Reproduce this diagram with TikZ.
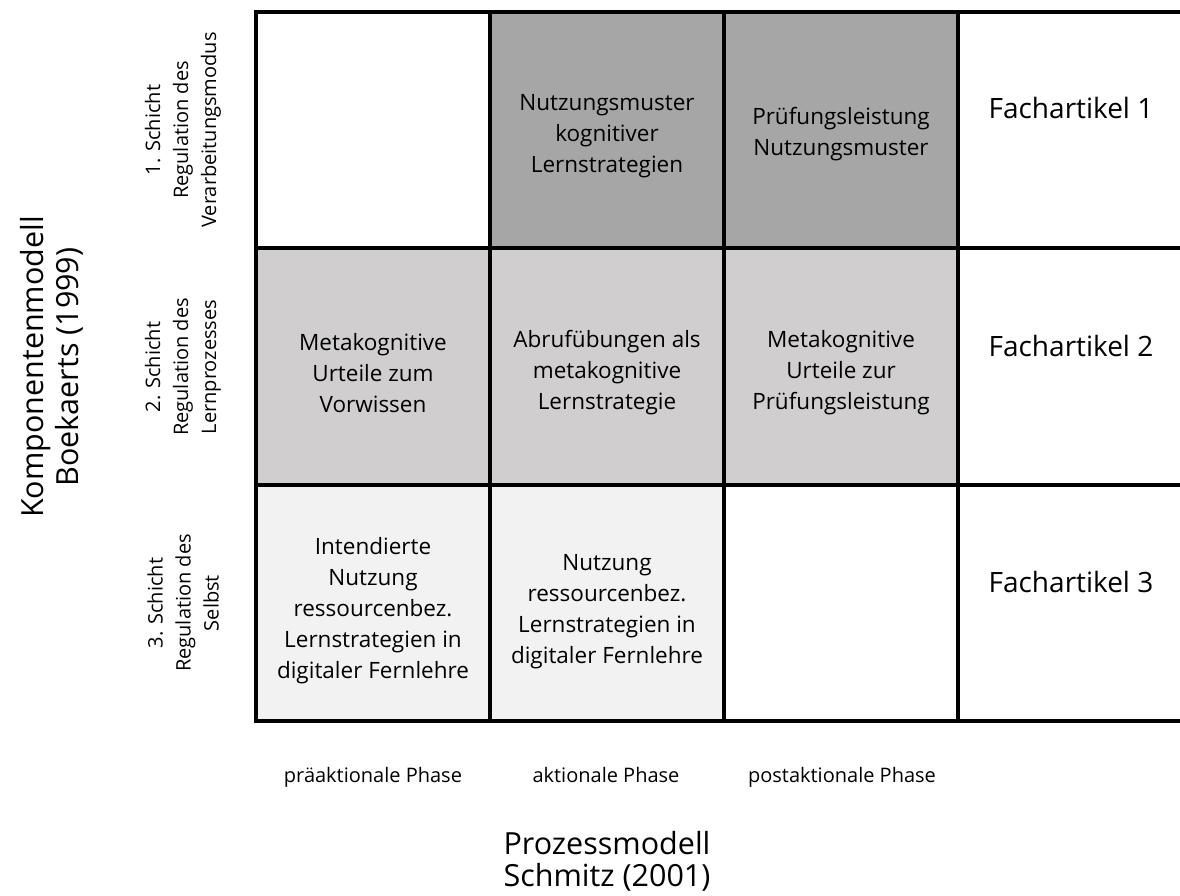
\documentclass[tikz,border=0pt]{standalone}
\usepackage{fontspec}
\setmainfont{Open Sans}
\definecolor{dark}{HTML}{A6A6A6}
\definecolor{mid}{HTML}{D0CECE}
\definecolor{light}{HTML}{F2F2F2}
\tikzset{
  cell/.style={draw=none, minimum width=234pt, minimum height=236.5pt, inner sep=0pt, outer sep=0pt},
  celltext/.style={align=center, font=\fontsize{22.5}{31}\selectfont, inner sep=0pt},
  arttext/.style={font=\fontsize{28}{34}\selectfont, inner sep=0pt},
  rowlabel/.style={rotate=90, align=center, font=\fontsize{20}{28}\selectfont, inner sep=0pt},
  phase/.style={font=\fontsize{20}{24}\selectfont, inner sep=0pt, anchor=base},
  axis/.style={align=center, font=\fontsize{30.5}{35}\selectfont, inner sep=0pt},
  gridline/.style={line width=3.5pt, line cap=rect}
}
\begin{document}
\begin{tikzpicture}[x=1pt,y=-1pt]
\useasboundingbox (0,0) rectangle (1180,896);
% cell backgrounds
\node[cell] (c11) at (373,130) {};
\node[cell, fill=dark] (c12) at (607,130) {};
\node[cell, fill=dark] (c13) at (841,130) {};
\node[cell, fill=mid] (c21) at (373,366.5) {};
\node[cell, fill=mid] (c22) at (607,366.5) {};
\node[cell, fill=mid] (c23) at (841,366.5) {};
\node[cell, fill=light] (c31) at (373,603) {};
\node[cell, fill=light] (c32) at (607,603) {};
\node[cell] (c33) at (841,603) {};
% grid
\coordinate (tl) at (256,12);
\coordinate (tr) at (1180,12);
\coordinate (bl) at (256,721);
\coordinate (br) at (1180,721);
\draw[gridline] (tr) -- (tl) -- (bl) -- (br);
\draw[gridline] (256,248) -- (1180,248);
\draw[gridline] (256,485) -- (1180,485);
\draw[gridline] (490,12) -- (490,721);
\draw[gridline] (724,12) -- (724,721);
\draw[gridline] (958,12) -- (958,721);
% cell texts
\node[celltext] (t12) at (607,136) {Nutzungsmuster\\kognitiver\\Lernstrategien};
\node[celltext] (t13) at (841,134) {Prüfungsleistung\\Nutzungsmuster};
\node[celltext] (t21) at (373,373) {Metakognitive\\Urteile zum\\Vorwissen};
\node[celltext] (t22) at (607,373) {Abrufübungen als\\metakognitive\\Lernstrategie};
\node[celltext] (t23) at (841,373) {Metakognitive\\Urteile zur\\Prüfungsleistung};
\node[celltext] (t31) at (373,611) {Intendierte\\Nutzung\\ressourcenbez.\\Lernstrategien in\\digitaler Fernlehre};
\node[celltext] (t32) at (607,612) {Nutzung\\ressourcenbez.\\Lernstrategien in\\digitaler Fernlehre};
% articles
\node[arttext] (a1) at (1071,108) {Fachartikel 1};
\node[arttext] (a2) at (1071,346) {Fachartikel 2};
\node[arttext] (a3) at (1071,582) {Fachartikel 3};
% row labels
\node[rowlabel] (r1) at (183,130) {1. Schicht\\Regulation des\\Verarbeitungsmodus};
\node[rowlabel] (r2) at (183,367) {2. Schicht\\Regulation des\\Lernprozesses};
\node[rowlabel] (r3) at (183,603) {3. Schicht\\Regulation des\\Selbst};
% phases
\node[phase] (p1) at (373,782) {präaktionale Phase};
\node[phase] (p2) at (606,782) {aktionale Phase};
\node[phase] (p3) at (842,782) {postaktionale Phase};
% axes
\node[axis, font=\fontsize{30.5}{32}\selectfont, anchor=base] (ax) at (607,886) {Prozessmodell\\Schmitz (2001)};
\node[axis, rotate=90] (ay) at (52,367) {Komponentenmodell\\Boekaerts (1999)};
\end{tikzpicture}
\end{document}
